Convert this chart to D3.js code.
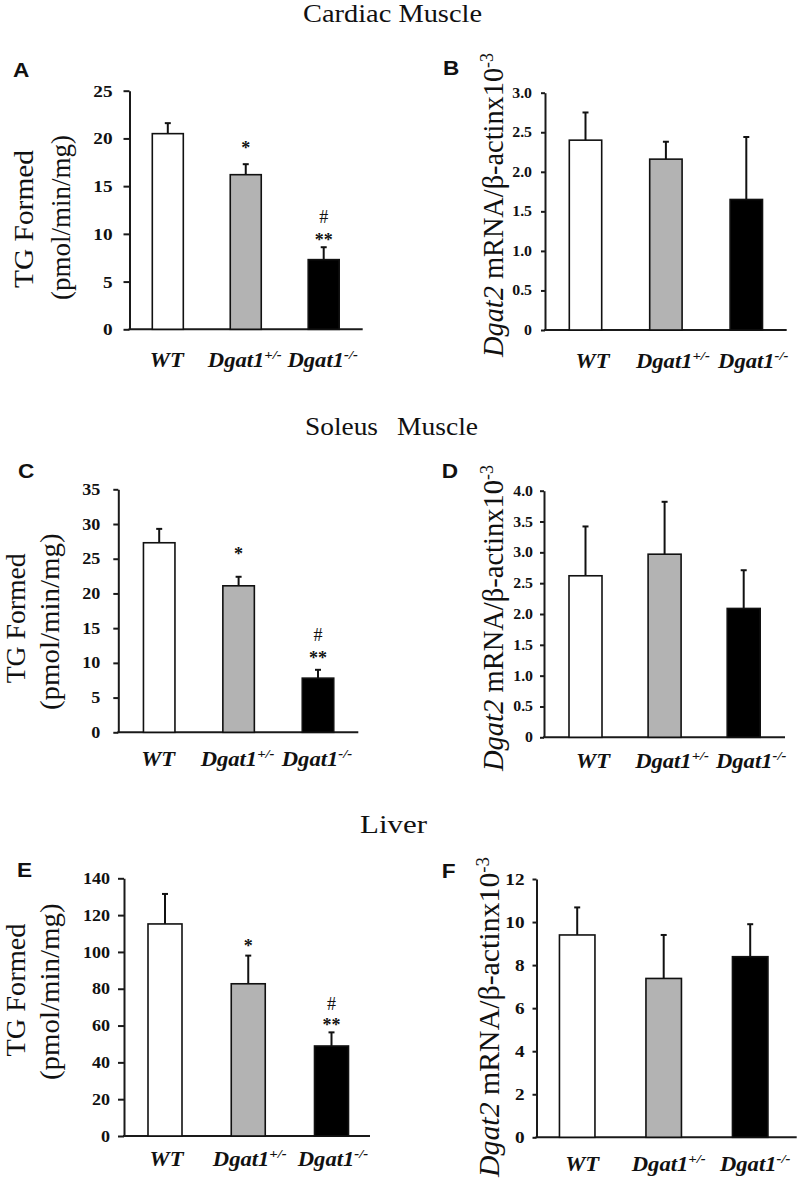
<!DOCTYPE html>
<html><head><meta charset="utf-8">
<script src="https://cdn.jsdelivr.net/npm/d3@7"></script>
<style>body{margin:0;background:#fff} svg{display:block}</style>
</head><body>
<svg id="chart" width="797" height="1180"></svg>
<script>
// ---------- DATA ----------
const categories = ["WT", "Dgat1+/-", "Dgat1-/-"];
const labelMain = ["WT", "Dgat1", "Dgat1"];
const labelSup = ["", "+/-", "-/-"];

const cardiacTG = [20.5, 16.2, 7.3];
const cardiacTGErr = [1.1, 1.1, 1.3];
const cardiacDgat2 = [2.40, 2.16, 1.65];
const cardiacDgat2Err = [0.35, 0.22, 0.79];

const soleusTG = [27.3, 21.1, 7.8];
const soleusTGErr = [2.0, 1.3, 1.2];
const soleusDgat2 = [2.62, 2.97, 2.09];
const soleusDgat2Err = [0.80, 0.85, 0.62];

const liverTG = [115.2, 82.7, 48.9];
const liverTGErr = [16.3, 15.3, 7.4];
const liverDgat2 = [9.4, 7.38, 8.39];
const liverDgat2Err = [1.28, 2.02, 1.51];

const ticksA = [0, 5, 10, 15, 20, 25];
const ticksB = [0, 0.5, 1.0, 1.5, 2.0, 2.5, 3.0];
const ticksC = [0, 5, 10, 15, 20, 25, 30, 35];
const ticksD = [0, 0.5, 1.0, 1.5, 2.0, 2.5, 3.0, 3.5, 4.0];
const ticksE = [0, 20, 40, 60, 80, 100, 120, 140];
const ticksF = [0, 2, 4, 6, 8, 10, 12];

// significance marks: category index, symbol, level (data units, glyph centre)
const sigA = [{c: 1, s: "*", at: 19.3}, {c: 2, s: "**", at: 9.6}, {c: 2, s: "#", at: 11.8}];
const sigC = [{c: 1, s: "*", at: 26.0}, {c: 2, s: "**", at: 11.1}, {c: 2, s: "#", at: 14.0}];
const sigE = [{c: 1, s: "*", at: 104.7}, {c: 2, s: "**", at: 61.6}, {c: 2, s: "#", at: 71.7}];

const sectionTitles = ["Cardiac Muscle", "Soleus", "Muscle", "Liver"];
const panelLetters = ["A", "B", "C", "D", "E", "F"];

// ---------- STYLE / LAYOUT ----------
const fills = ["#ffffff", "#b3b3b3", "#000000"];
const SX = 1.13;
const serif = "'Liberation Serif','Times New Roman',serif";
const sans = "'Liberation Sans',Arial,sans-serif";
const svg = d3.select("#chart");

function stretch(sel, f) {
  sel.each(function () {
    const L = this.getComputedTextLength();
    this.setAttribute("textLength", L * f);
    this.setAttribute("lengthAdjust", "spacingAndGlyphs");
  });
}

const fmtInt = d => d3.format("d")(d);
const fmtDec = d => d === 0 ? "0" : d3.format(".1f")(d);

const panels = [
  {letter: 0, vals: cardiacTG, errs: cardiacTGErr, ticks: ticksA, fmt: fmtInt, sig: sigA, left: true,
   ax: 129.5, xEnd: 362.7, y0: 329.3, yTop: 90.7, c0: 167.8, c2: 323.7, bw: 31, tick: 6, pad: 11, tf: 17, lb: 367, ldx: -1,
   t1: {x: 33, yc: 219, len: 138}, t2: {x: 70, yc: 217.5, len: 165}, lx: 13, ly: 77},
  {letter: 1, vals: cardiacDgat2, errs: cardiacDgat2Err, ticks: ticksB, fmt: fmtDec, sig: [], left: false,
   ax: 545, xEnd: 786.7, y0: 330, yTop: 92.7, c0: 585.5, c2: 746.3, bw: 32.4, tick: 4, pad: 9, tf: 14, lb: 368, ldx: 7,
   rt: {x: 503, yb: 357, len: 304}, lx: 443, ly: 75},
  {letter: 2, vals: soleusTG, errs: soleusTGErr, ticks: ticksC, fmt: fmtInt, sig: sigC, left: true,
   ax: 118.3, xEnd: 358.3, y0: 732.3, yTop: 489.3, c0: 159.2, c2: 318, bw: 31.5, tick: 5, pad: 13, tf: 16, lb: 766, ldx: -1,
   t1: {x: 25, yc: 618.3, len: 130}, t2: {x: 59, yc: 621.7, len: 176.7}, lx: 18, ly: 478},
  {letter: 3, vals: soleusDgat2, errs: soleusDgat2Err, ticks: ticksD, fmt: fmtDec, sig: [], left: false,
   ax: 544, xEnd: 785, y0: 737.3, yTop: 490.7, c0: 585.5, c2: 743.7, bw: 33, tick: 4, pad: 7, tf: 14, lb: 768, ldx: 7.5,
   rt: {x: 503, yb: 771, len: 306}, lx: 441.7, ly: 478},
  {letter: 4, vals: liverTG, errs: liverTGErr, ticks: ticksE, fmt: fmtInt, sig: sigE, left: true,
   ax: 124, xEnd: 370, y0: 1136, yTop: 878.3, c0: 165, c2: 331.5, bw: 34, tick: 6, pad: 8, tf: 16, lb: 1166, ldx: 1.5,
   t1: {x: 25, yc: 990, len: 133}, t2: {x: 59, yc: 991.7, len: 176.7}, lx: 17, ly: 876.7},
  {letter: 5, vals: liverDgat2, errs: liverDgat2Err, ticks: ticksF, fmt: fmtInt, sig: [], left: false,
   ax: 536.5, xEnd: 796.7, y0: 1137.3, yTop: 879, c0: 577.2, c2: 750.2, bw: 35.5, tick: 4, pad: 8, tf: 17, lb: 1171, ldx: 5,
   rt: {x: 499, yb: 1177, len: 320}, lx: 441.7, ly: 878}
];

function drawPanel(p) {
  const g = svg.append("g");
  const y = d3.scaleLinear().domain([0, p.ticks[p.ticks.length - 1]]).range([p.y0, p.yTop]);
  const x = d3.scalePoint().domain(categories).range([p.c0, p.c2]);

  // y axis
  const axis = d3.axisLeft(y).tickValues(p.ticks).tickFormat(p.fmt)
    .tickSize(p.tick).tickSizeOuter(0).tickPadding(p.pad);
  const ga = g.append("g").attr("transform", `translate(${p.ax},0)`).call(axis)
    .attr("font-family", serif);
  ga.select(".domain").attr("stroke", "#1a1a1a").attr("stroke-width", 2);
  ga.selectAll(".tick line").attr("stroke", "#1a1a1a").attr("stroke-width", 2);
  const tt = ga.selectAll(".tick text")
    .attr("font-family", serif).attr("font-weight", "bold")
    .attr("font-size", p.tf).attr("fill", "#111");
  stretch(tt, SX);

  // x axis line
  g.append("line").attr("x1", p.ax - 1).attr("x2", p.xEnd)
    .attr("y1", y(0)).attr("y2", y(0))
    .attr("stroke", "#1a1a1a").attr("stroke-width", 2);

  // error bars (upper only)
  const eg = g.append("g").attr("stroke", "#111").attr("stroke-width", 2);
  p.vals.forEach((v, i) => {
    const cx = x(categories[i]);
    eg.append("line").attr("x1", cx).attr("x2", cx).attr("y1", y(v)).attr("y2", y(v + p.errs[i]));
    eg.append("line").attr("x1", cx - 3).attr("x2", cx + 3).attr("y1", y(v + p.errs[i])).attr("y2", y(v + p.errs[i]));
  });

  // bars
  g.selectAll("rect.bar").data(p.vals).join("rect").attr("class", "bar")
    .attr("x", (d, i) => x(categories[i]) - p.bw / 2)
    .attr("y", d => y(d))
    .attr("width", p.bw)
    .attr("height", d => y(0) - y(d))
    .attr("fill", (d, i) => fills[i])
    .attr("stroke", "#111").attr("stroke-width", 1.6);

  // x labels
  categories.forEach((c, i) => {
    const t = g.append("text").attr("x", x(c) + p.ldx).attr("y", p.lb)
      .attr("text-anchor", "middle").attr("font-family", serif)
      .attr("font-weight", "bold").attr("font-style", "italic").attr("font-size", 20).attr("fill", "#111");
    t.append("tspan").text(labelMain[i]);
    if (labelSup[i]) t.append("tspan").attr("dy", -8).attr("font-size", 13).text(labelSup[i]);
    stretch(t, SX);
  });

  // significance marks
  p.sig.forEach(s => {
    const fs = 18;
    const k = s.s === "#" ? 0.34 : 0.47;
    g.append("text").attr("x", x(categories[s.c])).attr("y", y(s.at) + k * fs)
      .attr("text-anchor", "middle").attr("font-family", serif)
      .attr("font-weight", s.s === "#" ? "normal" : "bold").attr("font-size", fs).attr("fill", "#111")
      .text(s.s);
  });

  // panel letter
  const lt = g.append("text").attr("x", p.lx).attr("y", p.ly)
    .attr("font-family", sans).attr("font-weight", "bold").attr("font-size", 20).attr("fill", "#111")
    .text(panelLetters[p.letter]);
  stretch(lt, SX);

  // y titles
  if (p.left) {
    [["TG Formed", p.t1], ["(pmol/min/mg)", p.t2]].forEach(([s, o]) => {
      g.append("text").attr("transform", `translate(${o.x},${o.yc}) rotate(-90)`)
        .attr("text-anchor", "middle").attr("font-family", serif).attr("font-size", 27).attr("fill", "#111")
        .attr("textLength", o.len).attr("lengthAdjust", "spacingAndGlyphs")
        .text(s);
    });
  } else {
    const o = p.rt;
    const t = g.append("text").attr("transform", `translate(${o.x},${o.yb}) scale(${SX},1) rotate(-90)`)
      .attr("text-anchor", "start").attr("font-family", serif).attr("font-size", 27).attr("fill", "#111")
      .attr("textLength", o.len).attr("lengthAdjust", "spacingAndGlyphs");
    t.append("tspan").attr("font-style", "italic").text("Dgat2");
    t.append("tspan").text(" mRNA/β-actinx10");
    t.append("tspan").attr("dy", -9).attr("font-size", 17).text("-3");
  }
}

panels.forEach(drawPanel);

// section titles
function title(str, x0, base, len) {
  svg.append("text").attr("x", x0).attr("y", base)
    .attr("font-family", serif).attr("font-size", 25).attr("fill", "#111")
    .attr("textLength", len).attr("lengthAdjust", "spacingAndGlyphs").text(str);
}
title(sectionTitles[0], 303, 21.7, 179);
title(sectionTitles[1], 305, 435, 73);
title(sectionTitles[2], 397, 435, 81);
title(sectionTitles[3], 360, 833, 67);
</script>
</body></html>
